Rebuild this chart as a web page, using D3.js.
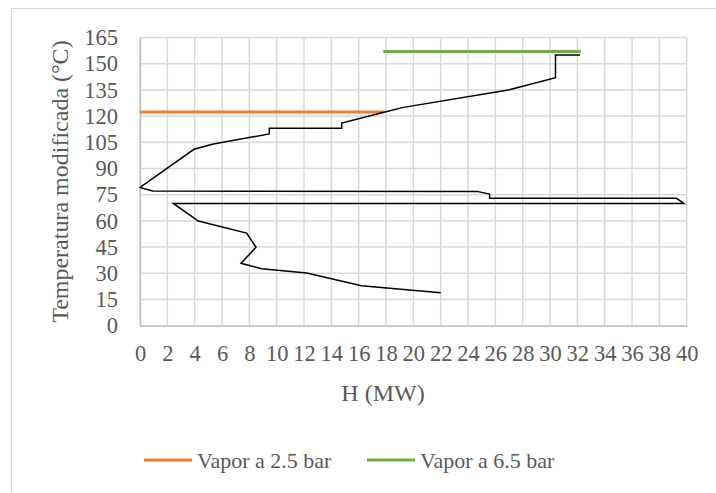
<!DOCTYPE html>
<html>
<head>
<meta charset="utf-8">
<script src="https://cdn.jsdelivr.net/npm/d3@7"></script>
<style>
	body { margin: 0; background: #fff; }
	svg { display: block; }
	text { font-family: "Liberation Serif", "Times New Roman", serif; fill: #595959; }
</style>
</head>
<body>
<svg id="chart" width="716" height="493"></svg>
<script>

// Data

var xTicks = [0, 2, 4, 6, 8, 10, 12, 14, 16, 18, 20, 22, 24, 26, 28, 30, 32, 34, 36, 38, 40];
var yTicks = [0, 15, 30, 45, 60, 75, 90, 105, 120, 135, 150, 165];

// gran curva compuesta (H en MW, T en °C)
var curveH = [32.2, 30.4, 30.4, 26.95, 19.27, 17.85, 14.76, 14.76, 9.46, 9.46, 5.37, 3.95, 0, 0.93, 24.65, 25.58, 25.58, 39.25, 39.8, 2.44, 4.27, 7.8, 8.49, 7.39, 8.9, 12.2, 16.2, 22.0];
var curveT = [155.0, 155.0, 142.0, 134.9, 125.0, 122.2, 116.0, 113.0, 113.0, 109.8, 104.0, 101.0, 79.2, 77.1, 76.9, 75.4, 72.9, 72.9, 70.0, 70.0, 59.9, 53.0, 44.9, 35.7, 32.6, 30.2, 22.9, 18.9];

var vapor25H = [0, 17.85];
var vapor25T = [122.4, 122.4];

var vapor65H = [17.8, 32.25];
var vapor65T = [157.0, 157.0];

var seriesNames = ["Vapor a 2.5 bar", "Vapor a 6.5 bar"];
var seriesColors = ["#ed7d31", "#70ad47"];

// Layout

var svg = d3.select("#chart");

var plot = { left: 140, right: 686.7, top: 37.5, bottom: 325.7 };

var x = d3.scaleLinear().domain([0, 40]).range([plot.left, plot.right]);
var y = d3.scaleLinear().domain([0, 165]).range([plot.bottom, plot.top]);

var zip = function (hs, ts) {
	return hs.map(function (h, i) { return [h, ts[i]]; });
};

var line = d3.line()
	.x(function (d) { return x(d[0]); })
	.y(function (d) { return y(d[1]); });

// chart border
svg.append("rect")
	.attr("x", 11.5)
	.attr("y", 8.5)
	.attr("width", 800)
	.attr("height", 600)
	.style("fill", "none")
	.style("stroke", "#d9d9d9")
	.style("stroke-width", 1);

// Grid

var grid = svg.append("g");

grid.selectAll("line.v")
	.data(xTicks)
	.enter().append("line")
	.attr("class", "v")
	.attr("x1", function (d) { return x(d); })
	.attr("x2", function (d) { return x(d); })
	.attr("y1", plot.top)
	.attr("y2", plot.bottom)
	.style("stroke", "#d9d9d9")
	.style("stroke-width", 1.5);

grid.selectAll("line.h")
	.data(yTicks)
	.enter().append("line")
	.attr("class", "h")
	.attr("x1", plot.left)
	.attr("x2", plot.right)
	.attr("y1", function (d) { return y(d); })
	.attr("y2", function (d) { return y(d); })
	.style("stroke", "#d9d9d9")
	.style("stroke-width", 1.5);

// Axes

var xAxis = svg.append("g")
	.attr("transform", "translate(0," + plot.bottom + ")")
	.call(d3.axisBottom(x).tickValues(xTicks).tickSize(0).tickPadding(20));

var yAxis = svg.append("g")
	.attr("transform", "translate(" + plot.left + ",0)")
	.call(d3.axisLeft(y).tickValues(yTicks).tickSize(0).tickPadding(22));

[xAxis, yAxis].forEach(function (axis) {
	axis.select(".domain").style("stroke", "#c4c4c4").style("stroke-width", 1.5);
	axis.selectAll("text")
		.style("font-family", "'Liberation Serif', serif")
		.style("font-size", "22.5px")
		.style("fill", "#595959");
});

xAxis.selectAll("text").attr("dy", "0.66em");

// Axis titles

svg.append("text")
	.attr("x", 383)
	.attr("y", 401)
	.attr("text-anchor", "middle")
	.style("font-size", "24px")
	.text("H (MW)");

svg.append("text")
	.attr("transform", "translate(68," + ((plot.top + plot.bottom) / 2) + ") rotate(-90)")
	.attr("text-anchor", "middle")
	.style("font-size", "24px")
	.text("Temperatura modificada (°C)");

// Series

svg.append("path")
	.datum(zip(vapor25H, vapor25T))
	.attr("d", line)
	.style("fill", "none")
	.style("stroke", seriesColors[0])
	.style("stroke-width", 3);

svg.append("path")
	.datum(zip(vapor65H, vapor65T))
	.attr("d", line)
	.style("fill", "none")
	.style("stroke", seriesColors[1])
	.style("stroke-width", 3);

svg.append("path")
	.datum(zip(curveH, curveT))
	.attr("d", line)
	.style("fill", "none")
	.style("stroke", "#000")
	.style("stroke-width", 1.5)
	.style("stroke-linejoin", "miter");

// Legend

var legendX = [144, 367];

var legend = svg.selectAll("g.legend")
	.data(seriesNames)
	.enter().append("g")
	.attr("class", "legend")
	.attr("transform", function (d, i) { return "translate(" + legendX[i] + ",460)"; });

legend.append("line")
	.attr("x1", 0)
	.attr("x2", 48)
	.style("stroke", function (d, i) { return seriesColors[i]; })
	.style("stroke-width", 3);

legend.append("text")
	.attr("x", 53)
	.attr("y", 8)
	.style("font-size", "22px")
	.text(function (d) { return d; });

</script>
</body>
</html>
